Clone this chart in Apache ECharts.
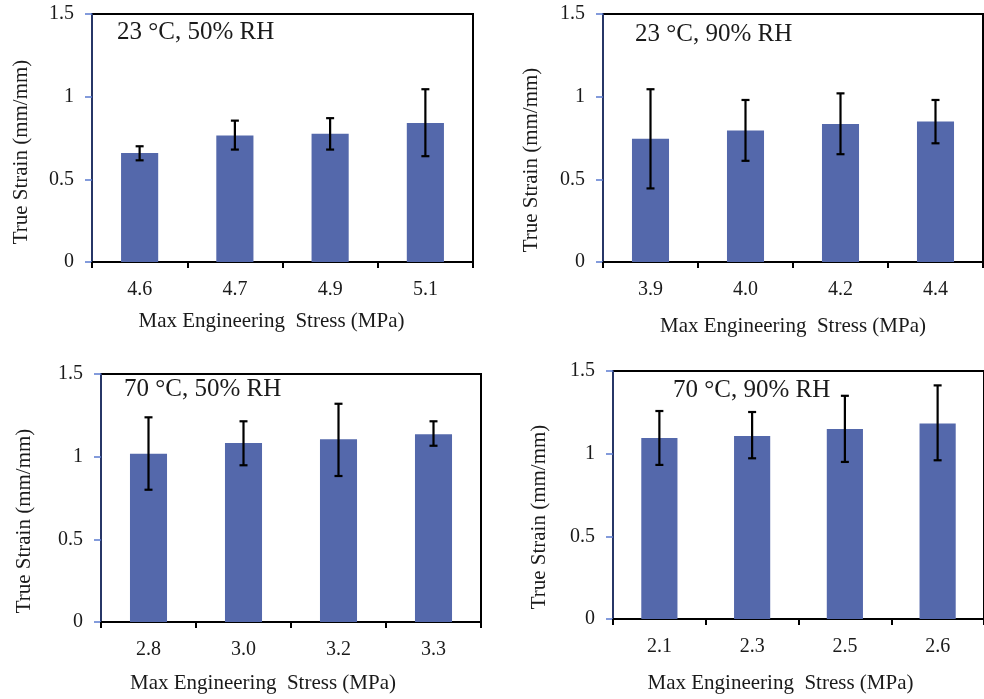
<!DOCTYPE html>
<html>
<head>
<meta charset="utf-8">
<script src="https://cdn.jsdelivr.net/npm/echarts@6/dist/echarts.min.js"></script>
<style>
  html, body { margin: 0; padding: 0; background: #fff; }
  #chart { width: 984px; height: 699px; }
</style>
</head>
<body>
<div id="chart"></div>
<script>
// stress categories (MPa) for each condition
const cats1 = ["4.6", "4.7", "4.9", "5.1"];
const cats2 = ["3.9", "4.0", "4.2", "4.4"];
const cats3 = ["2.8", "3.0", "3.2", "3.3"];
const cats4 = ["2.1", "2.3", "2.5", "2.6"];

// mean true strain
const mean1 = [0.66, 0.765, 0.775, 0.84];
const mean2 = [0.745, 0.795, 0.835, 0.85];
const mean3 = [1.018, 1.082, 1.106, 1.136];
const mean4 = [1.095, 1.107, 1.149, 1.182];

// error bar ends
const low1 = [0.615, 0.68, 0.68, 0.64];
const high1 = [0.70, 0.855, 0.87, 1.045];
const low2 = [0.445, 0.612, 0.652, 0.718];
const high2 = [1.045, 0.98, 1.02, 0.98];
const low3 = [0.80, 0.948, 0.883, 1.066];
const high3 = [1.238, 1.214, 1.32, 1.214];
const low4 = [0.932, 0.972, 0.95, 0.96];
const high4 = [1.258, 1.252, 1.35, 1.413];

const yTicks = [0, 0.5, 1, 1.5];
const labels = ["23 °C, 50% RH", "23 °C, 90% RH", "70 °C, 50% RH", "70 °C, 90% RH"];

const panels = [
  { cats: cats1, mean: mean1, low: low1, high: high1 },
  { cats: cats2, mean: mean2, low: low2, high: high2 },
  { cats: cats3, mean: mean3, low: low3, high: high3 },
  { cats: cats4, mean: mean4, low: low4, high: high4 },
];

const FONT = "Liberation Serif";
const TXT = "#1a1a1a";
const BAR = "#5468ab";

// plot boxes and label tweaks per panel
const boxes = [
  { left: 92, top: 14, width: 381, height: 248, yGap: 60, yShift: 28, xGap: 49, xShift: 22, tx: 117, ty: 20 },
  { left: 603, top: 14, width: 380, height: 248, yGap: 61, yShift: 44, xGap: 54, xShift: 0, tx: 635, ty: 22 },
  { left: 101, top: 374, width: 380, height: 248, yGap: 66, yShift: 46, xGap: 51, xShift: 56, tx: 124, ty: 377 },
  { left: 613, top: 371, width: 381, height: 248, yGap: 63, yShift: 44, xGap: 54, xShift: 36, tx: 673, ty: 378 },
];

const grid = [], xAxis = [], yAxis = [], series = [], title = [];

panels.forEach((p, i) => {
  const b = boxes[i];
  grid.push({
    left: b.left, top: b.top, width: b.width, height: b.height,
    show: true, borderColor: "#000", borderWidth: 2, backgroundColor: "#fff",
  });
  xAxis.push({
    type: "category", gridIndex: i, data: p.cats,
    name: "Max Engineering  Stress (MPa)", nameLocation: "middle", nameGap: b.xGap,
    nameTextStyle: { fontFamily: FONT, fontSize: 21, color: TXT, padding: [0, b.xShift, 0, 0] },
    axisLine: { lineStyle: { color: "#000", width: 2 } },
    axisTick: { show: true, length: 6, lineStyle: { color: "#000", width: 2 } },
    axisLabel: { fontFamily: FONT, fontSize: 20, color: TXT, margin: 18 },
  });
  yAxis.push({
    type: "value", gridIndex: i, min: 0, max: 1.5, interval: 0.5,
    name: "True Strain (mm/mm)", nameLocation: "middle", nameGap: b.yGap,
    nameTextStyle: { fontFamily: FONT, fontSize: 21, color: TXT, padding: [0, b.yShift, 0, 0] },
    axisLine: { show: true, lineStyle: { color: "#34488a", width: 1.5 } },
    axisTick: { show: true, length: 7, lineStyle: { color: "#5b7bd0", width: 1.5 } },
    axisLabel: {
      fontFamily: FONT, fontSize: 20, color: TXT, margin: 18,
      formatter: v => (yTicks.includes(v) ? String(v) : ""),
    },
    splitLine: { show: false },
  });
  series.push({
    type: "bar", xAxisIndex: i, yAxisIndex: i, data: p.mean,
    barWidth: "39%", itemStyle: { color: BAR }, silent: true,
  });
  series.push({
    type: "custom", xAxisIndex: i, yAxisIndex: i, silent: true, z: 5,
    data: p.cats.map((c, k) => [k, p.low[k], p.high[k]]),
    renderItem: (params, api) => {
      const lo = api.coord([api.value(0), api.value(1)]);
      const hi = api.coord([api.value(0), api.value(2)]);
      const w = 4;
      const st = { stroke: "#000", lineWidth: 2.2 };
      return {
        type: "group",
        children: [
          { type: "line", shape: { x1: lo[0], y1: lo[1], x2: hi[0], y2: hi[1] }, style: st },
          { type: "line", shape: { x1: lo[0] - w, y1: lo[1], x2: lo[0] + w, y2: lo[1] }, style: st },
          { type: "line", shape: { x1: hi[0] - w, y1: hi[1], x2: hi[0] + w, y2: hi[1] }, style: st },
        ],
      };
    },
  });
  title.push({
    text: labels[i], left: b.tx, top: b.ty, padding: 0,
    textStyle: { fontFamily: FONT, fontSize: 25, fontWeight: "normal", color: TXT },
  });
});

const chart = echarts.init(document.getElementById("chart"));
chart.setOption({
  animation: false,
  backgroundColor: "#fff",
  title, grid, xAxis, yAxis, series,
});
</script>
</body>
</html>
